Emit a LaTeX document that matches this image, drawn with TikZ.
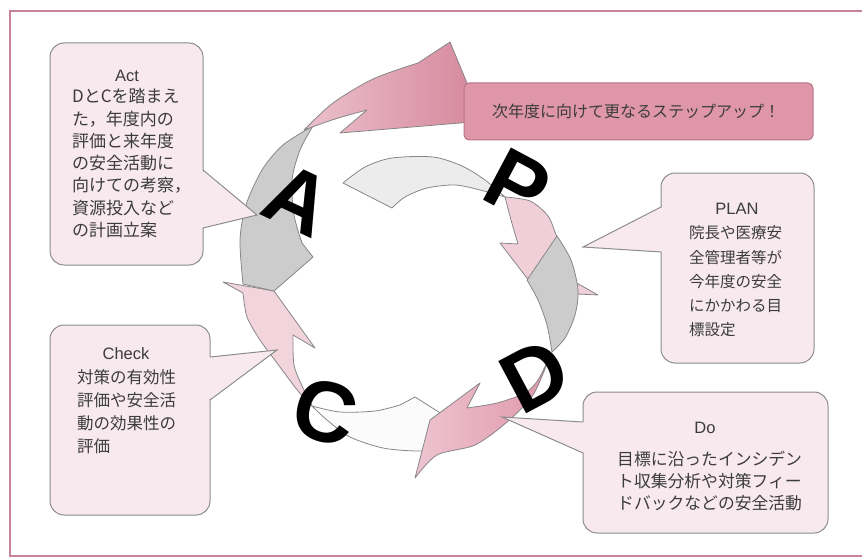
\documentclass[tikz,border=0pt]{standalone}
\usepackage{fontspec}
\setmainfont{Liberation Sans}
\newfontfamily\jp{Noto Sans CJK JP}
\newfontfamily\latf{Liberation Sans}
\definecolor{boxfill}{RGB}{247,233,237}
\definecolor{boxline}{RGB}{140,140,140}
\definecolor{banner}{RGB}{222,150,168}
\definecolor{bannerline}{RGB}{185,115,135}
\definecolor{swooshL}{RGB}{236,192,204}
\definecolor{swooshR}{RGB}{214,138,158}
\definecolor{pinkDL}{RGB}{238,196,208}
\definecolor{pinkDR}{RGB}{224,152,172}
\definecolor{pinkP}{RGB}{241,207,216}
\definecolor{pinkC}{RGB}{242,212,220}
\definecolor{grayband}{RGB}{204,204,204}
\definecolor{lightband}{RGB}{236,236,236}
\definecolor{whiteband}{RGB}{251,251,251}
\definecolor{bandline}{RGB}{135,135,135}
\definecolor{framec}{RGB}{200,130,155}
\definecolor{txt}{RGB}{60,60,60}
\begin{document}
\begin{tikzpicture}[x=1pt,y=-1pt,
  band/.style={draw=bandline, line width=0.8pt, line join=round},
  calloutbox/.style={draw=boxline, fill=boxfill, line width=1pt, rounded corners=14pt},
  tailline/.style={draw=boxline, line width=1pt, line join=miter},
  big/.style={font=\latf\fontsize{86}{86}\selectfont\bfseries, inner sep=0pt, text=black},
  head/.style={font=\latf\fontsize{16.5}{18}\selectfont, text=txt, inner sep=0pt, anchor=base},
  jptext/.style={font=\jp\fontsize{#1}{#1}\selectfont, text=txt, inner sep=0pt, anchor=base west},
  jptext/.default=16.5]
\useasboundingbox (0,0) rectangle (862,559);
% frame
\draw[framec, line width=1.6pt] (876,11) -- (10,11) -- (10,556) -- (876,556);

% pink C arrow (C -> A)
\draw[band, fill=pinkC] plot[smooth] coordinates {(312,406) (303,388) (294,365) (293,335)}
  -- (315,348) -- (274,291) -- (223,282) -- (243,293)
  -- plot[smooth] coordinates {(243,293) (247,317) (260,340) (277,363) (298,391) (312,406)} -- cycle;
% gray A band
\draw[band, fill=grayband] plot[smooth] coordinates {(313,126) (283,145) (262,170) (246,205) (240,240) (243,284)}
  -- (274,291) -- (313,257) -- (302,243)
  -- plot[smooth] coordinates {(302,243) (294,215) (292,180) (300,150) (313,126)} -- cycle;
% step-up swoosh
\draw[band, left color=swooshL, right color=swooshR] plot[smooth] coordinates {(304,130) (333,103) (373,79) (418,63)}
  -- (450,42) -- (472,95) -- (472,122) -- (340,133) -- (367,110)
  -- plot[smooth] coordinates {(367,110) (335,119) (304,130)} -- cycle;
% banner
\node[draw=bannerline, fill=banner, rounded corners=5pt, line width=1pt, minimum width=349pt, minimum height=57pt, inner sep=0pt] (banner) at (638.5,111.5) {};
\node[font=\jp\fontsize{16}{16}\selectfont, text=txt, inner sep=0pt, anchor=base] (bannertext) at (636,118) {次年度に向けて更なるステップアップ！};

% top light band (A -> P)
\draw[band, fill=lightband] (343,183) -- plot[smooth] coordinates {(343,183) (365,167) (392,158) (433,157) (462,166) (485,180) (505,197)}
  -- plot[smooth] coordinates {(505,197) (480,190) (455,185) (427,188) (405,197) (392,208)} -- cycle;
% pink P head
\draw[band, fill=pinkP] plot[smooth] coordinates {(505,197) (530,201) (548,216) (557,237) (569,261) (575,282)}
  -- (598,295) -- (577,294) -- (530,282) -- (500,243) -- (518,244)
  -- plot[smooth] coordinates {(518,244) (511,220) (505,197)} -- cycle;
% right gray band (P -> D)
\draw[band, fill=grayband] (557,236) -- (527,280)
  -- plot[smooth] coordinates {(527,280) (538,300) (547,325) (552,352)}
  -- plot[smooth] coordinates {(552,352) (565,338) (575,315) (578,290) (571,260) (557,236)} -- cycle;
% bottom white band (D -> C)
\draw[band, fill=whiteband] plot[smooth] coordinates {(312,406) (340,412) (375,411) (400,405)}
  -- (415,397) -- (445,416) -- (445,449)
  -- plot[smooth] coordinates {(445,449) (417,451) (383,448) (350,437) (327,420) (312,406)} -- cycle;
% pink D arrow
\draw[band, left color=pinkDL, right color=pinkDR] plot[smooth] coordinates {(550,356) (538,380) (525,393) (497,403) (467,408)}
  -- (480,383) -- (430,420) -- (415,478)
  -- plot[smooth] coordinates {(415,478) (437,455) (475,445) (507,422) (533,395) (550,356)} -- cycle;

% Act callout
\draw[calloutbox] (50,43) rectangle (203,265);
\fill[boxfill] (201.3,170) -- (257,215) -- (201.3,228) -- cycle;
\draw[tailline] (203,170) -- (257,215) -- (203,228);
\node[head] (acthead) at (127,82) {Act};
\foreach \t [count=\i] in {DとCを踏まえ,た，年度内の,評価と来年度,の安全活動に,向けての考察，,資源投入など,の計画立案}
  \node[jptext=17] (act\i) at (72,{103+22.2*(\i-1)}) {\t};

% PLAN callout
\draw[calloutbox] (661,173) rectangle (814,363);
\fill[boxfill] (662.7,207) -- (583,247) -- (662.7,252) -- cycle;
\draw[tailline] (661,207) -- (583,247) -- (661,252);
\node[head] (planhead) at (737,214) {PLAN};
\foreach \t [count=\i] in {院長や医療安,全管理者等が,今年度の安全,にかかわる目,標設定}
  \node[jptext=15.5] (plan\i) at (689,{238.7+24.3*(\i-1)}) {\t};

% Do callout
\draw[calloutbox] (583,392) rectangle (828,533);
\fill[boxfill] (584.7,422) -- (502,417) -- (584.7,453) -- cycle;
\draw[tailline] (583,422) -- (502,417) -- (583,453);
\node[head] (dohead) at (705,433) {Do};
\foreach \t [count=\i] in {目標に沿ったインシデン,ト収集分析や対策フィー,ドバックなどの安全活動}
  \node[jptext=16.8] (do\i) at (617,{465.2+22*(\i-1)}) {\t};

% Check callout
\draw[calloutbox] (50,325) rectangle (210,515);
\fill[boxfill] (208.3,357) -- (277,350) -- (208.3,400) -- cycle;
\draw[tailline] (210,357) -- (277,350) -- (210,400);
\node[head] (checkhead) at (126,359) {Check};
\foreach \t [count=\i] in {対策の有効性,評価や安全活,動の効果性の,評価}
  \node[jptext=16.5] (check\i) at (77,{383+23.3*(\i-1)}) {\t};

% big letters
\node[big, rotate=-25] (letA) at (298,200) {A};
\node[big, rotate=-28] (letP) at (518,185) {P};
\node[big, rotate=28] (letD) at (535,376) {D};
\node[big, rotate=-15] (letC) at (325,412) {C};
\end{tikzpicture}
\end{document}
